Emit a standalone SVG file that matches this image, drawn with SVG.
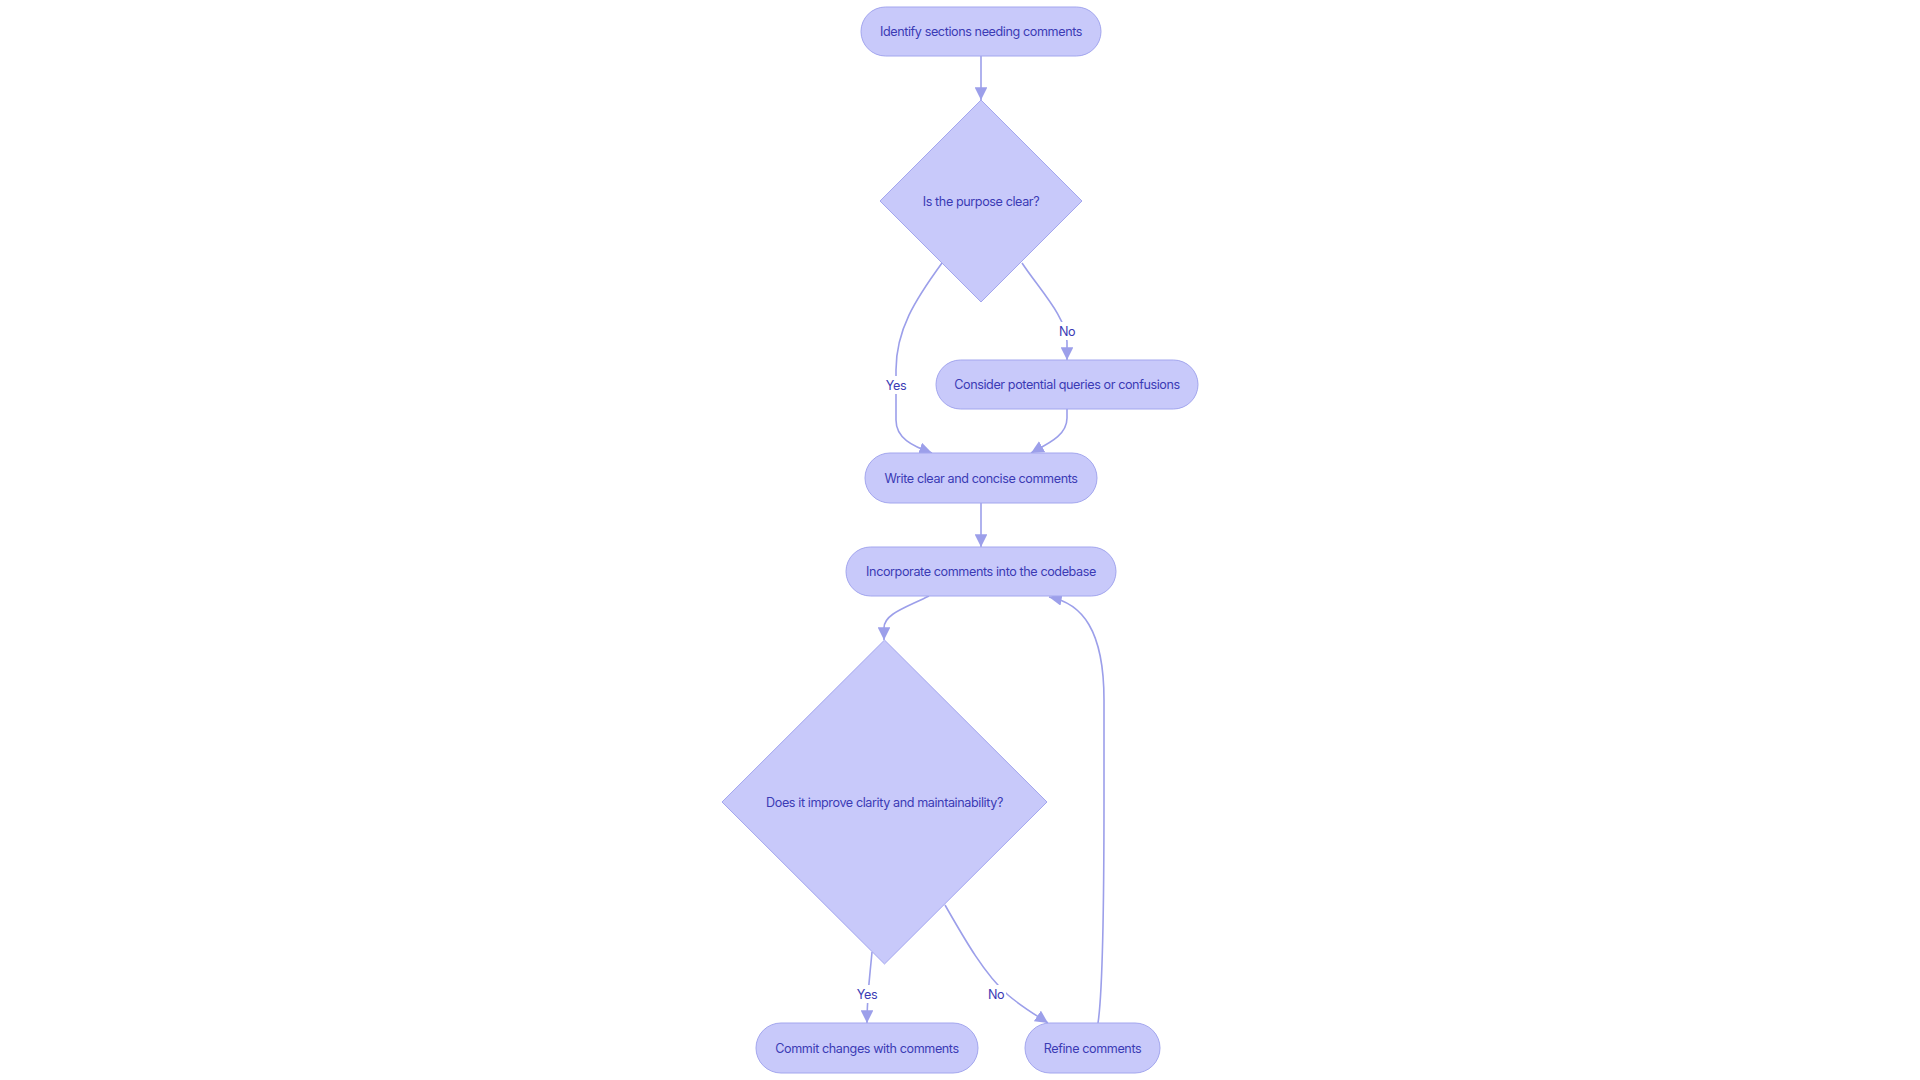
<svg xmlns="http://www.w3.org/2000/svg" width="1920" height="1080" viewBox="0 0 1920 1080">
<style>
.node{fill:#c8c9fa;stroke:#a3a6ee;stroke-width:1}
.lbl{font-family:Inter,"Noto Sans",sans-serif;font-size:12.6px;fill:#3b3bb5;text-anchor:middle;dominant-baseline:central;letter-spacing:-0.4px}
.edge{fill:none;stroke:#9c9fea;stroke-width:1.6}
.elbl{fill:#ffffff}
</style>
<defs>
<marker id="arr" viewBox="0 0 10 10" refX="10" refY="5" markerWidth="8" markerHeight="8" orient="auto" markerUnits="strokeWidth">
<path d="M0,0 L10,5 L0,10 z" fill="#9c9fea"/>
</marker>
</defs>
<rect width="1920" height="1080" fill="#ffffff"/>
<g id="connectors">
<path class="edge" d="M981,56 L981,100" marker-end="url(#arr)"/>
<path class="edge" d="M942,263 C915,300 896,330 896,370 L896,420 C896,438 912,446 932,453" marker-end="url(#arr)"/>
<path class="edge" d="M1022,263 C1040,290 1067,318 1067,342 L1067,360" marker-end="url(#arr)"/>
<path class="edge" d="M1067,409 L1067,418 C1067,436 1047,444 1031,453" marker-end="url(#arr)"/>
<path class="edge" d="M981,503 L981,547" marker-end="url(#arr)"/>
<path class="edge" d="M929,596 C905,608 884,614 884,628 L884,640" marker-end="url(#arr)"/>
<path class="edge" d="M872,952 C870,975 867,995 867,1023" marker-end="url(#arr)"/>
<path class="edge" d="M945,905 C965,940 985,975 1008,995 C1022,1007 1036,1015 1048,1023" marker-end="url(#arr)"/>
<path class="edge" d="M1098,1023 C1103,990 1104,900 1104,800 L1104,700 C1104,630 1082,603 1049,597" marker-end="url(#arr)"/>
<rect class="elbl" x="883" y="376" width="26" height="18"/>
<text class="lbl" x="896" y="385">Yes</text>
<rect class="elbl" x="1057" y="322" width="20" height="18"/>
<text class="lbl" x="1067" y="331">No</text>
<rect class="elbl" x="854" y="985" width="26" height="18"/>
<text class="lbl" x="867" y="994">Yes</text>
<rect class="elbl" x="986" y="985" width="20" height="18"/>
<text class="lbl" x="996" y="994">No</text>
</g>
<g id="n1"><rect class="node" x="861" y="7" width="240" height="49" rx="24.5"/><text class="lbl" x="981" y="31.5">Identify sections needing comments</text></g>
<g id="n2"><polygon class="node" points="981,100 1082,201 981,302 880,201"/><text class="lbl" x="981" y="201">Is the purpose clear?</text></g>
<g id="n3"><rect class="node" x="936" y="360" width="262" height="49" rx="24.5"/><text class="lbl" x="1067" y="384.5">Consider potential queries or confusions</text></g>
<g id="n4"><rect class="node" x="865" y="453" width="232" height="50" rx="25"/><text class="lbl" x="981" y="478">Write clear and concise comments</text></g>
<g id="n5"><rect class="node" x="846" y="547" width="270" height="49" rx="24.5"/><text class="lbl" x="981" y="571.5">Incorporate comments into the codebase</text></g>
<g id="n6"><polygon class="node" points="884.5,640 1047,802 884.5,964 722,802"/><text class="lbl" x="884.5" y="802">Does it improve clarity and maintainability?</text></g>
<g id="n7"><rect class="node" x="756" y="1023" width="222" height="50" rx="25"/><text class="lbl" x="867" y="1048">Commit changes with comments</text></g>
<g id="n8"><rect class="node" x="1025" y="1023" width="135" height="50" rx="25"/><text class="lbl" x="1092.5" y="1048">Refine comments</text></g>
</svg>
